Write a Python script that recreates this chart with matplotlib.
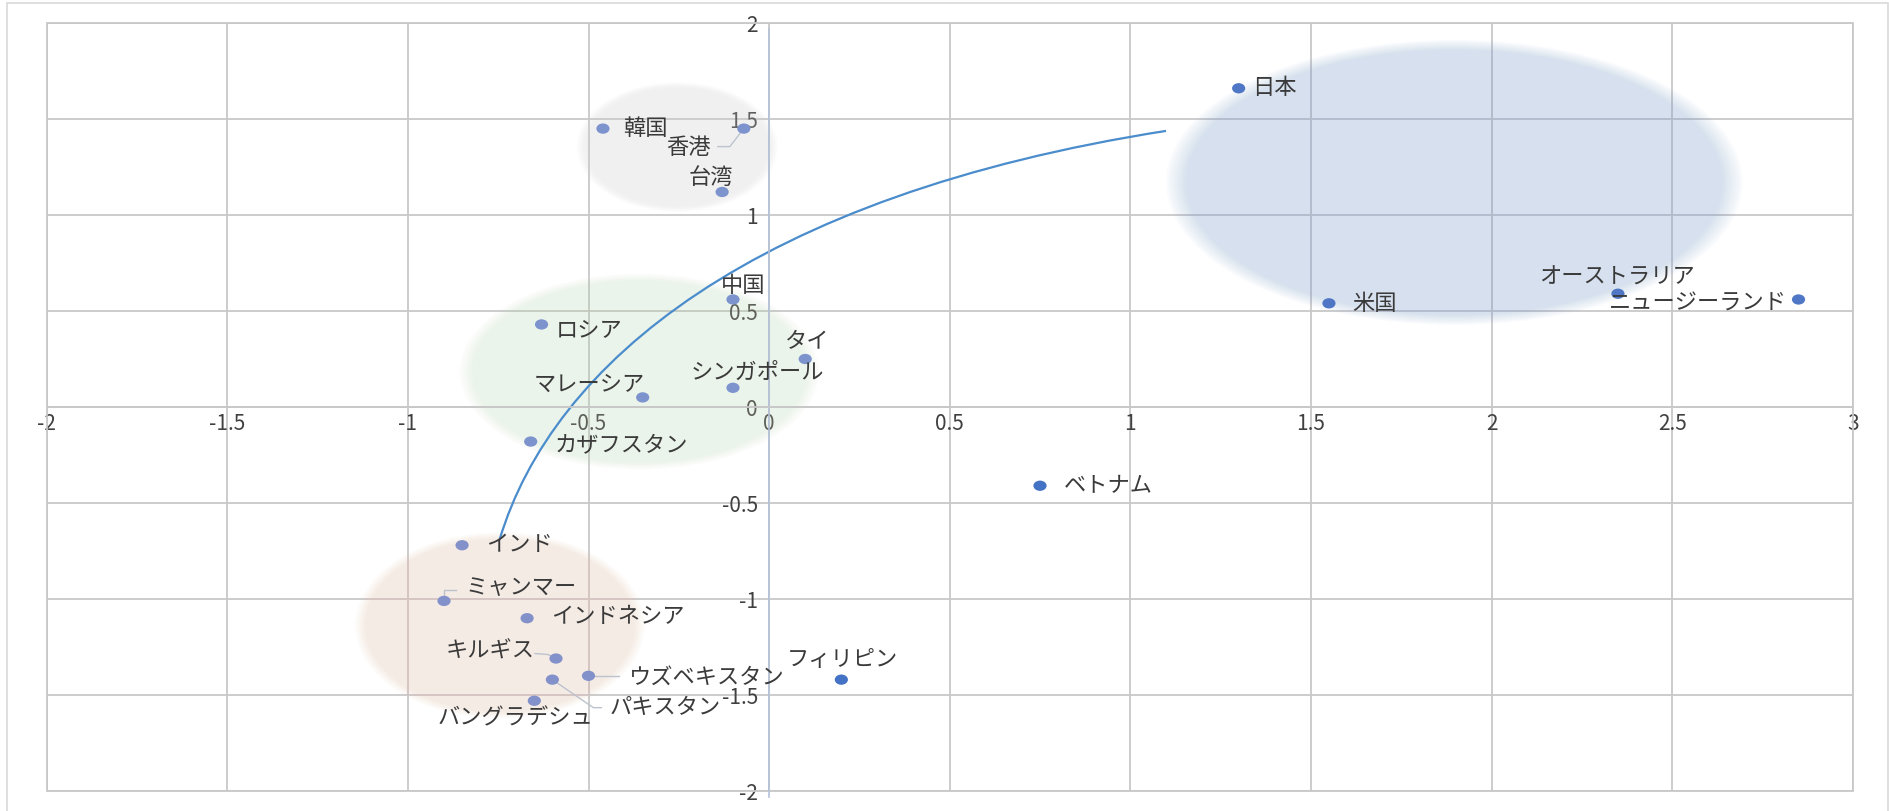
import numpy as np
import matplotlib
matplotlib.use("Agg")
import matplotlib.pyplot as plt
from matplotlib.patches import Ellipse, Rectangle, PathPatch
from matplotlib.path import Path
from matplotlib.transforms import Affine2D

plt.rcParams['font.family'] = ['Noto Sans CJK JP', 'DejaVu Sans']
plt.rcParams['axes.unicode_minus'] = False

# ---- data -------------------------------------------------------------
countries = ["日本", "韓国", "香港", "台湾", "中国", "ロシア", "タイ", "シンガポール",
             "マレーシア", "カザフスタン", "インド", "ミャンマー", "インドネシア", "キルギス",
             "ウズベキスタン", "パキスタン", "バングラデシュ", "フィリピン", "ベトナム",
             "米国", "オーストラリア", "ニュージーランド"]
x_vals = [1.30, -0.46, -0.07, -0.13, -0.10, -0.63, 0.10, -0.10,
          -0.35, -0.66, -0.85, -0.90, -0.67, -0.59,
          -0.50, -0.60, -0.65, 0.20, 0.75,
          1.55, 2.35, 2.85]
y_vals = [1.66, 1.45, 1.45, 1.12, 0.56, 0.43, 0.25, 0.10,
          0.05, -0.18, -0.72, -1.01, -1.10, -1.31,
          -1.40, -1.42, -1.53, -1.42, -0.41,
          0.54, 0.59, 0.56]
groups = ["pacific", "east", "east", "east", "central", "central", "central", "central",
          "central", "central", "south", "south", "south", "south",
          "south", "south", "south", "other", "other",
          "pacific", "pacific", "pacific"]

x_ticks = [-2, -1.5, -1, -0.5, 0, 0.5, 1, 1.5, 2, 2.5, 3]
y_ticks = [-2, -1.5, -1, -0.5, 0, 0.5, 1, 1.5, 2]

# cluster regions: centre x, centre y, width, height
cluster_names = ["east", "central", "south", "pacific"]
cluster_cx = [-0.254, -0.359, -0.745, 1.897]
cluster_cy = [1.354, 0.184, -1.137, 1.170]
cluster_w = [0.558, 0.997, 0.803, 1.597]
cluster_h = [0.676, 1.021, 0.970, 1.485]

# sweeping arc drawn across the map (cubic Bezier control points)
arc_x = [-0.746, -0.599, -0.040, 1.099]
arc_y = [-0.690, 0.231, 1.103, 1.438]

# ---- styles -----------------------------------------------------------
marker_colors = {"pacific": "#4f77c6", "other": "#4472c4",
                 "east": "#7c93cd", "central": "#7c93cd", "south": "#8391ca"}
cluster_style = {"east": ("#d7d7d7", 0.26), "central": ("#c6dab6", 0.25),
                 "south": ("#f5c6af", 0.26), "pacific": ("#86a6d6", 0.29)}

# label offsets in pixels (dx, dy upward) and horizontal alignment
label_pos = {
    "日本": (13, 1, "left"), "韓国": (20, 0, "left"), "香港": (-33, -19, "right"),
    "台湾": (-11, 14, "center"), "中国": (10, 14, "center"), "ロシア": (14, -5, "left"),
    "タイ": (2, 17, "center"), "シンガポール": (24, 15, "center"),
    "マレーシア": (-53, 13, "center"), "カザフスタン": (24, -4, "left"),
    "インド": (24, 1, "left"), "ミャンマー": (22, 13, "left"),
    "インドネシア": (24, 2, "left"), "キルギス": (-21, 7, "right"),
    "ウズベキスタン": (40, -1, "left"), "パキスタン": (57, -28, "left"),
    "バングラデシュ": (-19, -17, "center"), "フィリピン": (1, 20, "center"),
    "ベトナム": (24, 0, "left"), "米国": (23, 0, "left"),
    "オーストラリア": (-1, 17, "center"), "ニュージーランド": (-12, -3, "right"),
}
# leader lines in pixel offsets from the point
leaders = {
    "香港": [(0, 0), (-14, -18), (-26, -18)],
    "ミャンマー": [(0, 0), (0, 11), (12, 11)],
    "キルギス": [(0, 0), (-8, 4), (-21, 5)],
    "ウズベキスタン": [(0, 0), (30, 0)],
    "パキスタン": [(0, 0), (41, -28), (49, -28)],
}

W, H, DPI = 1890, 811, 100
fig = plt.figure(figsize=(W / DPI, H / DPI), dpi=DPI)
fig.patch.set_facecolor("white")

left_px, right_px, top_px, bottom_px = 46.7, 1852.7, 23.0, 791.0
ax = fig.add_axes([left_px / W, 1 - bottom_px / H,
                   (right_px - left_px) / W, (bottom_px - top_px) / H])
ax.set_xlim(-2, 3)
ax.set_ylim(-2, 2)
ax.set_facecolor("white")

grid_c = "#c8c8c8"
ax.set_xticks(x_ticks)
ax.set_yticks(y_ticks)
ax.xaxis.set_major_formatter(plt.FuncFormatter(lambda v, p: f"{v:g}"))
ax.yaxis.set_major_formatter(plt.FuncFormatter(lambda v, p: f"{v:g}"))
ax.grid(True, color=grid_c, lw=1.3, zorder=0)
ax.set_axisbelow(True)

for s in ("top", "right"):
    ax.spines[s].set_visible(False)
ax.spines["bottom"].set_position(("data", 0))
ax.spines["bottom"].set_color(grid_c)
ax.spines["bottom"].set_linewidth(1.3)
ax.spines["left"].set_position(("data", 0))
ax.spines["left"].set_color("#b4c1d9")
ax.spines["left"].set_linewidth(1.2)
ax.spines["left"].set_bounds(-2.03, 1.97)
ax.tick_params(axis="both", length=0, labelsize=15, colors="#404040")
ax.tick_params(axis="x", pad=4)
ax.tick_params(axis="y", pad=8)

ax.add_patch(Rectangle((0, 0), 1, 1, transform=ax.transAxes, fill=False,
                       edgecolor=grid_c, lw=1.3, clip_on=False, zorder=0.6))

# soft-edged cluster regions
def soft_ellipse(cx, cy, w, h, color, alpha, feather=0.07, layers=10):
    a_i = 1 - (1 - alpha) ** (1.0 / layers)
    for i in range(layers):
        s = 1 - feather * i / (layers - 1)
        ax.add_patch(Ellipse((cx, cy), w * s, h * s, facecolor=color,
                             edgecolor="none", alpha=a_i, zorder=1))

for name, cx, cy, w, h in zip(cluster_names, cluster_cx, cluster_cy, cluster_w, cluster_h):
    col, a = cluster_style[name]
    soft_ellipse(cx, cy, w, h, col, a, feather=0.1 if name == "east" else 0.07)

# arc
verts = list(zip(arc_x, arc_y))
arc_path = Path(verts, [Path.MOVETO, Path.CURVE4, Path.CURVE4, Path.CURVE4])
ax.add_patch(PathPatch(arc_path, facecolor="none", edgecolor="#4a8ccc",
                       lw=1.6, zorder=2.5))

# leader lines
to_px = ax.transData
from_px = ax.transData.inverted()
for name, offs in leaders.items():
    i = countries.index(name)
    base = np.array(to_px.transform((x_vals[i], y_vals[i])))
    pts = np.array([base + np.array(o) for o in offs])
    d = from_px.transform(pts)
    ax.plot(d[:, 0], d[:, 1], color="#bcc3cf", lw=1.0, zorder=2.6)

# points (slightly wide dots)
dot = Path.unit_circle().transformed(Affine2D().scale(1.0, 0.78))
cols = [marker_colors[g] for g in groups]
ax.scatter(x_vals, y_vals, s=9.5 ** 2, c=cols, marker=dot, linewidths=0, zorder=3)

# labels
for name, xv, yv in zip(countries, x_vals, y_vals):
    dx, dy, ha = label_pos[name]
    ax.annotate(name, (xv, yv), xytext=(dx, dy), textcoords="offset pixels",
                ha=ha, va="center", fontsize=16, color="#3a3a3a", zorder=4)

# chart-area border
fig.patches.append(Rectangle((7.3 / W, -0.01), (1888.3 - 7.3) / W, 1.01 - 3 / H,
                             transform=fig.transFigure, fill=False,
                             edgecolor="#d9d9d9", lw=1.2, figure=fig))

fig.savefig("out.png", dpi=DPI, facecolor="white")
